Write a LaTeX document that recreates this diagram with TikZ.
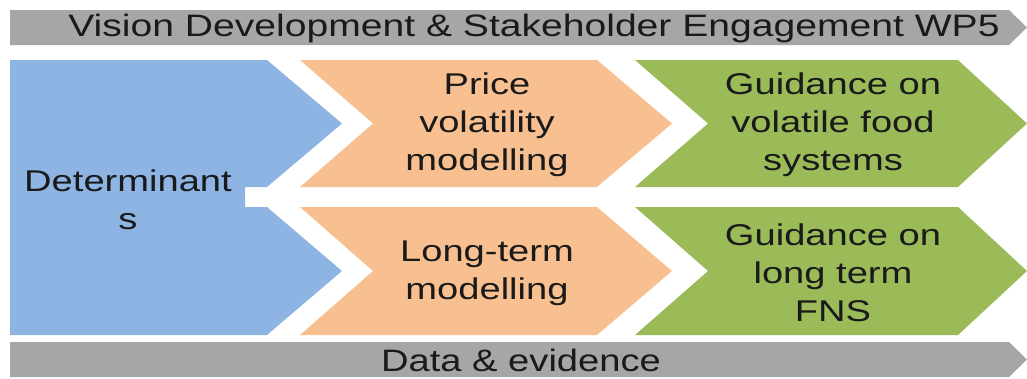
\documentclass[tikz,border=0pt]{standalone}
\usepackage{fontspec}
\setmainfont{Liberation Sans}
\definecolor{cblue}{HTML}{8EB4E3}
\definecolor{corange}{HTML}{F8C090}
\definecolor{cgreen}{HTML}{9BBB59}
\definecolor{cgray}{HTML}{A6A6A6}
\definecolor{ctext}{HTML}{1A1A1A}
\tikzset{
  lbl/.style={align=center, text=ctext, font=\fontsize{30}{38}\selectfont, xscale=1.27, inner sep=0pt},
  barlbl/.style={align=center, text=ctext, font=\fontsize{31}{38}\selectfont, xscale=1.23, inner sep=0pt},
}
\begin{document}
\begin{tikzpicture}[x=1pt,y=-1pt]
\useasboundingbox (0,0) rectangle (1027,378);
% bars
\fill[cgray] (10,10) -- (1009,10) -- (1027,27.5) -- (1009,45) -- (10,45) -- cycle;
\fill[cgray] (10,342) -- (1009,342) -- (1027,359.5) -- (1009,377) -- (10,377) -- cycle;
% blue
\fill[cblue] (10,60) -- (267,60) -- (342,123.5) -- (267,187) -- (245,187) -- (245,207)
  -- (267,207) -- (342,271) -- (267,335) -- (10,335) -- cycle;
% orange
\fill[corange] (300,60) -- (597,60) -- (672,123.5) -- (597,187) -- (300,187) -- (373,123.5) -- cycle;
\fill[corange] (300,207) -- (597,207) -- (672,271) -- (597,335) -- (300,335) -- (373,271) -- cycle;
% green
\fill[cgreen] (635,60) -- (958,60) -- (1027,123.5) -- (958,187) -- (635,187) -- (708,123.5) -- cycle;
\fill[cgreen] (635,207) -- (958,207) -- (1027,271) -- (958,335) -- (635,335) -- (708,271) -- cycle;
% labels
\node[barlbl, xscale=1.025] (top) at (534,28) {Vision Development \& Stakeholder Engagement WP5};
\node[barlbl] (bot) at (521,360) {Data \& evidence};
\node[lbl] (det) at (128,200) {Determinant\\s};
\node[lbl] (price) at (487,125) {Price\\volatility\\modelling};
\node[lbl] (long) at (487,273) {Long-term\\modelling};
\node[lbl] (gv) at (833,125) {Guidance on\\volatile food\\systems};
\node[lbl] (gl) at (833,273) {Guidance on\\long term\\FNS};
\end{tikzpicture}
\end{document}
